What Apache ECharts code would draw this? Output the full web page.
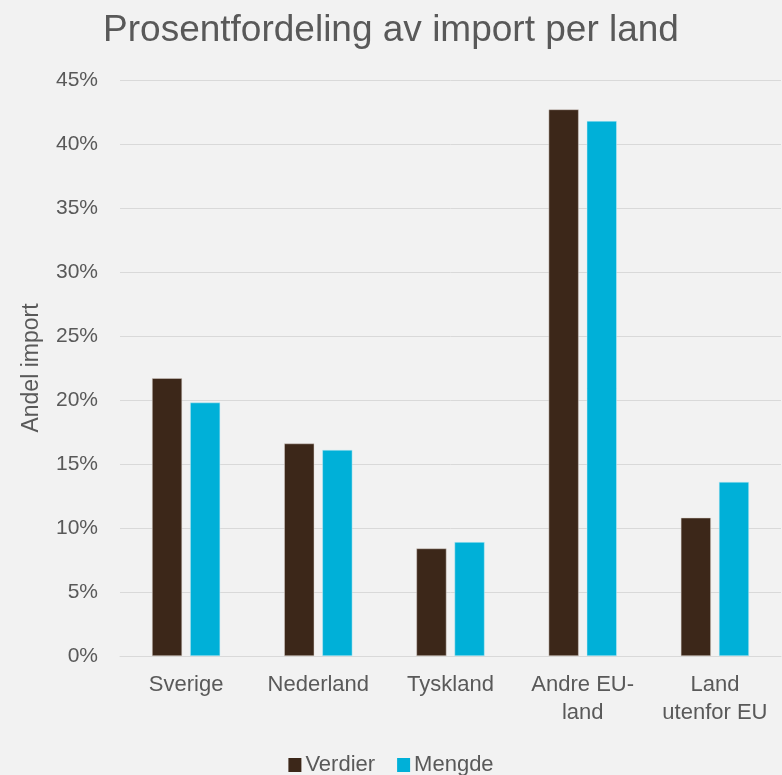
<!DOCTYPE html>
<html>
<head>
<meta charset="utf-8">
<script src="https://cdn.jsdelivr.net/npm/echarts@6/dist/echarts.min.js"></script>
<style>
  html, body { margin: 0; padding: 0; background: #f2f2f2; }
  #chart { width: 782px; height: 775px; }
</style>
</head>
<body>
<div id="chart"></div>
<script>
  // land / kategorier
  var categories = ['Sverige', 'Nederland', 'Tyskland', 'Andre EU-\nland', 'Land\nutenfor EU'];
  // andel import i prosent
  var verdier = [21.7, 16.6, 8.4, 42.7, 10.8];
  var mengde = [19.8, 16.1, 8.9, 41.8, 13.6];

  var chart = echarts.init(document.getElementById('chart'));
  var font = 'Liberation Sans, Arial, sans-serif';

  var option = {
    backgroundColor: '#f2f2f2',
    title: {
      text: 'Prosentfordeling av import per land',
      left: 'center',
      top: 7,
      textStyle: {
        fontFamily: font,
        fontWeight: 'normal',
        fontSize: 37,
        color: '#595959'
      }
    },
    legend: {
      top: 749,
      left: 'center',
      itemWidth: 13,
      itemHeight: 14,
      itemGap: 22,
      icon: 'rect',
      itemStyle: { borderWidth: 0 },
      textStyle: {
        fontFamily: font,
        fontSize: 22,
        color: '#595959',
        padding: [0, 0, 0, -1]
      },
      data: ['Verdier', 'Mengde']
    },
    grid: {
      left: 120,
      right: 1,
      top: 80,
      bottom: 119
    },
    xAxis: {
      type: 'category',
      data: categories,
      axisLine: { lineStyle: { color: '#d9d9d9', width: 1 } },
      axisTick: { show: false },
      axisLabel: {
        interval: 0,
        hideOverlap: false,
        fontFamily: font,
        fontSize: 22,
        color: '#595959',
        lineHeight: 28,
        margin: 15
      }
    },
    yAxis: {
      type: 'value',
      min: 0,
      max: 45,
      interval: 5,
      name: 'Andel import',
      nameLocation: 'middle',
      nameGap: 77,
      nameTextStyle: {
        fontFamily: font,
        fontSize: 23,
        color: '#595959'
      },
      axisLine: { show: false },
      axisTick: { show: false },
      axisLabel: {
        fontFamily: font,
        fontSize: 21,
        color: '#595959',
        margin: 22,
        formatter: '{value}%'
      },
      splitLine: { lineStyle: { color: '#d9d9d9', width: 1 } }
    },
    series: [{
      name: 'Verdier',
      type: 'bar',
      data: verdier,
      barWidth: 30,
      barGap: '27%',
      itemStyle: { color: '#3c2719', borderColor: '#d8d0ca', borderWidth: 0.5 }
    }, {
      name: 'Mengde',
      type: 'bar',
      data: mengde,
      barWidth: 30,
      itemStyle: { color: '#00b0d8', borderColor: '#c8ecf5', borderWidth: 0.5 }
    }]
  };
  chart.setOption(option);
</script>
</body>
</html>
